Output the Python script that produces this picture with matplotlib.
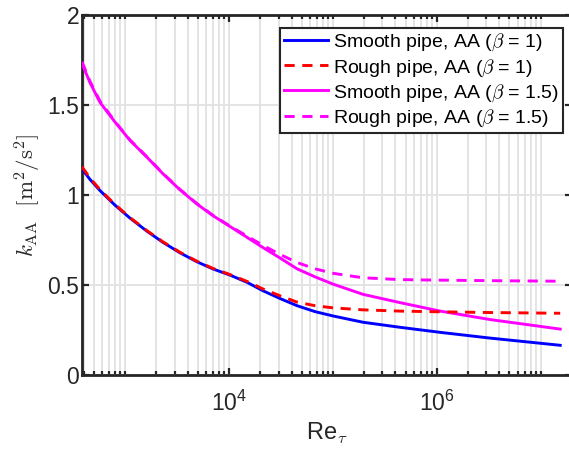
import matplotlib
matplotlib.use("Agg")
import matplotlib.pyplot as plt
from matplotlib.ticker import LogLocator, NullFormatter, FixedLocator

plt.rcParams['font.family'] = ['Liberation Sans', 'DejaVu Sans']
plt.rcParams['mathtext.fontset'] = 'custom'
plt.rcParams['mathtext.rm'] = 'Liberation Sans'
plt.rcParams['mathtext.it'] = 'Liberation Sans:italic'

# ---- data ----
re_tau = [385, 459, 573, 798, 1113, 1623, 2314, 3372, 4918, 7016, 1.023e4,
          1.49e4, 2.124e4, 3.097e4, 4.519e4, 6.737e4, 1.003e5, 1.95e5,
          4.43e5, 1.076e6, 3.26e6, 1.54e7]
smooth_b1 = [1.145, 1.087, 1.025, 0.944, 0.872, 0.799, 0.737, 0.679, 0.629,
             0.589, 0.555, 0.515, 0.468, 0.425, 0.385, 0.352, 0.328, 0.293,
             0.265, 0.237, 0.205, 0.165]
rough_b1 = [1.157, 1.095, 1.030, 0.948, 0.875, 0.802, 0.740, 0.682, 0.632,
            0.592, 0.558, 0.520, 0.478, 0.440, 0.405, 0.385, 0.373, 0.362,
            0.355, 0.351, 0.347, 0.343]
smooth_b15 = [1.730, 1.625, 1.515, 1.406, 1.304, 1.210, 1.118, 1.029, 0.950,
              0.885, 0.825, 0.765, 0.708, 0.650, 0.590, 0.545, 0.505, 0.448,
              0.402, 0.355, 0.308, 0.255]
rough_b15 = [1.740, 1.632, 1.522, 1.409, 1.306, 1.212, 1.120, 1.031, 0.952,
             0.887, 0.827, 0.772, 0.720, 0.670, 0.625, 0.590, 0.565, 0.540,
             0.530, 0.527, 0.524, 0.521]

labels = ['Smooth pipe, AA ($\\beta$ = 1)', 'Rough pipe, AA ($\\beta$ = 1)',
          'Smooth pipe, AA ($\\beta$ = 1.5)', 'Rough pipe, AA ($\\beta$ = 1.5)']
xtick_vals = [1e4, 1e6]
xtick_labels = ['$10^{4}$', '$10^{6}$']
ytick_vals = [0, 0.5, 1, 1.5, 2]
ytick_labels = ['0', '0.5', '1', '1.5', '2']

W, H = 569, 454
fig = plt.figure(figsize=(W / 100, H / 100), dpi=100)
ax = fig.add_axes([82 / W, 1 - 375 / H, (572 - 82) / W, (375 - 15) / H])

lw = 2.1
dash = (0, (3.5, 2.6))
ax.plot(re_tau, smooth_b1, color='#0000ff', lw=lw, label=labels[0], zorder=3)
ax.plot(re_tau, rough_b1, color='#ff0000', lw=lw, ls=dash, label=labels[1], zorder=4)
ax.plot(re_tau, smooth_b15, color='#ff00ff', lw=lw, label=labels[2], zorder=3)
ax.plot(re_tau, rough_b15, color='#ff00ff', lw=lw, ls=dash, label=labels[3], zorder=4)

ax.set_xscale('log')
ax.set_xlim(385, 2.0e7)
ax.set_ylim(0, 2)

ax.xaxis.set_major_locator(FixedLocator(xtick_vals))
ax.set_xticklabels(xtick_labels)
ax.xaxis.set_minor_locator(LogLocator(base=10, subs=[1, 2, 3, 4, 5, 6, 7, 8, 9], numticks=50))
ax.xaxis.set_minor_formatter(NullFormatter())
ax.set_yticks(ytick_vals)
ax.set_yticklabels(ytick_labels)

gc = '#e2e2e2'
ax.grid(True, which='major', axis='both', color=gc, lw=1.3, zorder=0)
ax.grid(True, which='minor', axis='x', color=gc, lw=1.3, zorder=0)
ax.set_axisbelow(True)

for s in ax.spines.values():
    s.set_linewidth(2.0)
    s.set_color('#262626')

ax.tick_params(which='both', direction='in', top=True, right=True,
               colors='#262626', labelcolor='#262626', width=1.6)
ax.tick_params(which='major', length=5, labelsize=16.5)
ax.tick_params(which='minor', length=3)
ax.tick_params(axis='x', which='major', pad=11)
ax.tick_params(axis='y', which='major', pad=2)

ax.set_xlabel('Re$_{\\tau}$', fontsize=17, color='#262626', math_fontfamily='cm', labelpad=4)
ax.set_ylabel('$k_{\\mathrm{AA}}\\ \\ [\\mathrm{m}^2/\\mathrm{s}^2]$', fontsize=16.5,
              color='#262626', math_fontfamily='cm', labelpad=3)

leg = ax.legend(loc='upper right', bbox_to_anchor=(563 / W, 1 - 28 / H),
                bbox_transform=fig.transFigure, borderaxespad=0, fontsize=14,
                handlelength=2.3, handletextpad=0.25, labelspacing=0.18,
                borderpad=0.2, fancybox=False, framealpha=1, edgecolor='#262626')
leg.get_frame().set_linewidth(1.5)
for t in leg.get_texts():
    t.set_math_fontfamily('cm')

fig.savefig('out.png', dpi=100)
